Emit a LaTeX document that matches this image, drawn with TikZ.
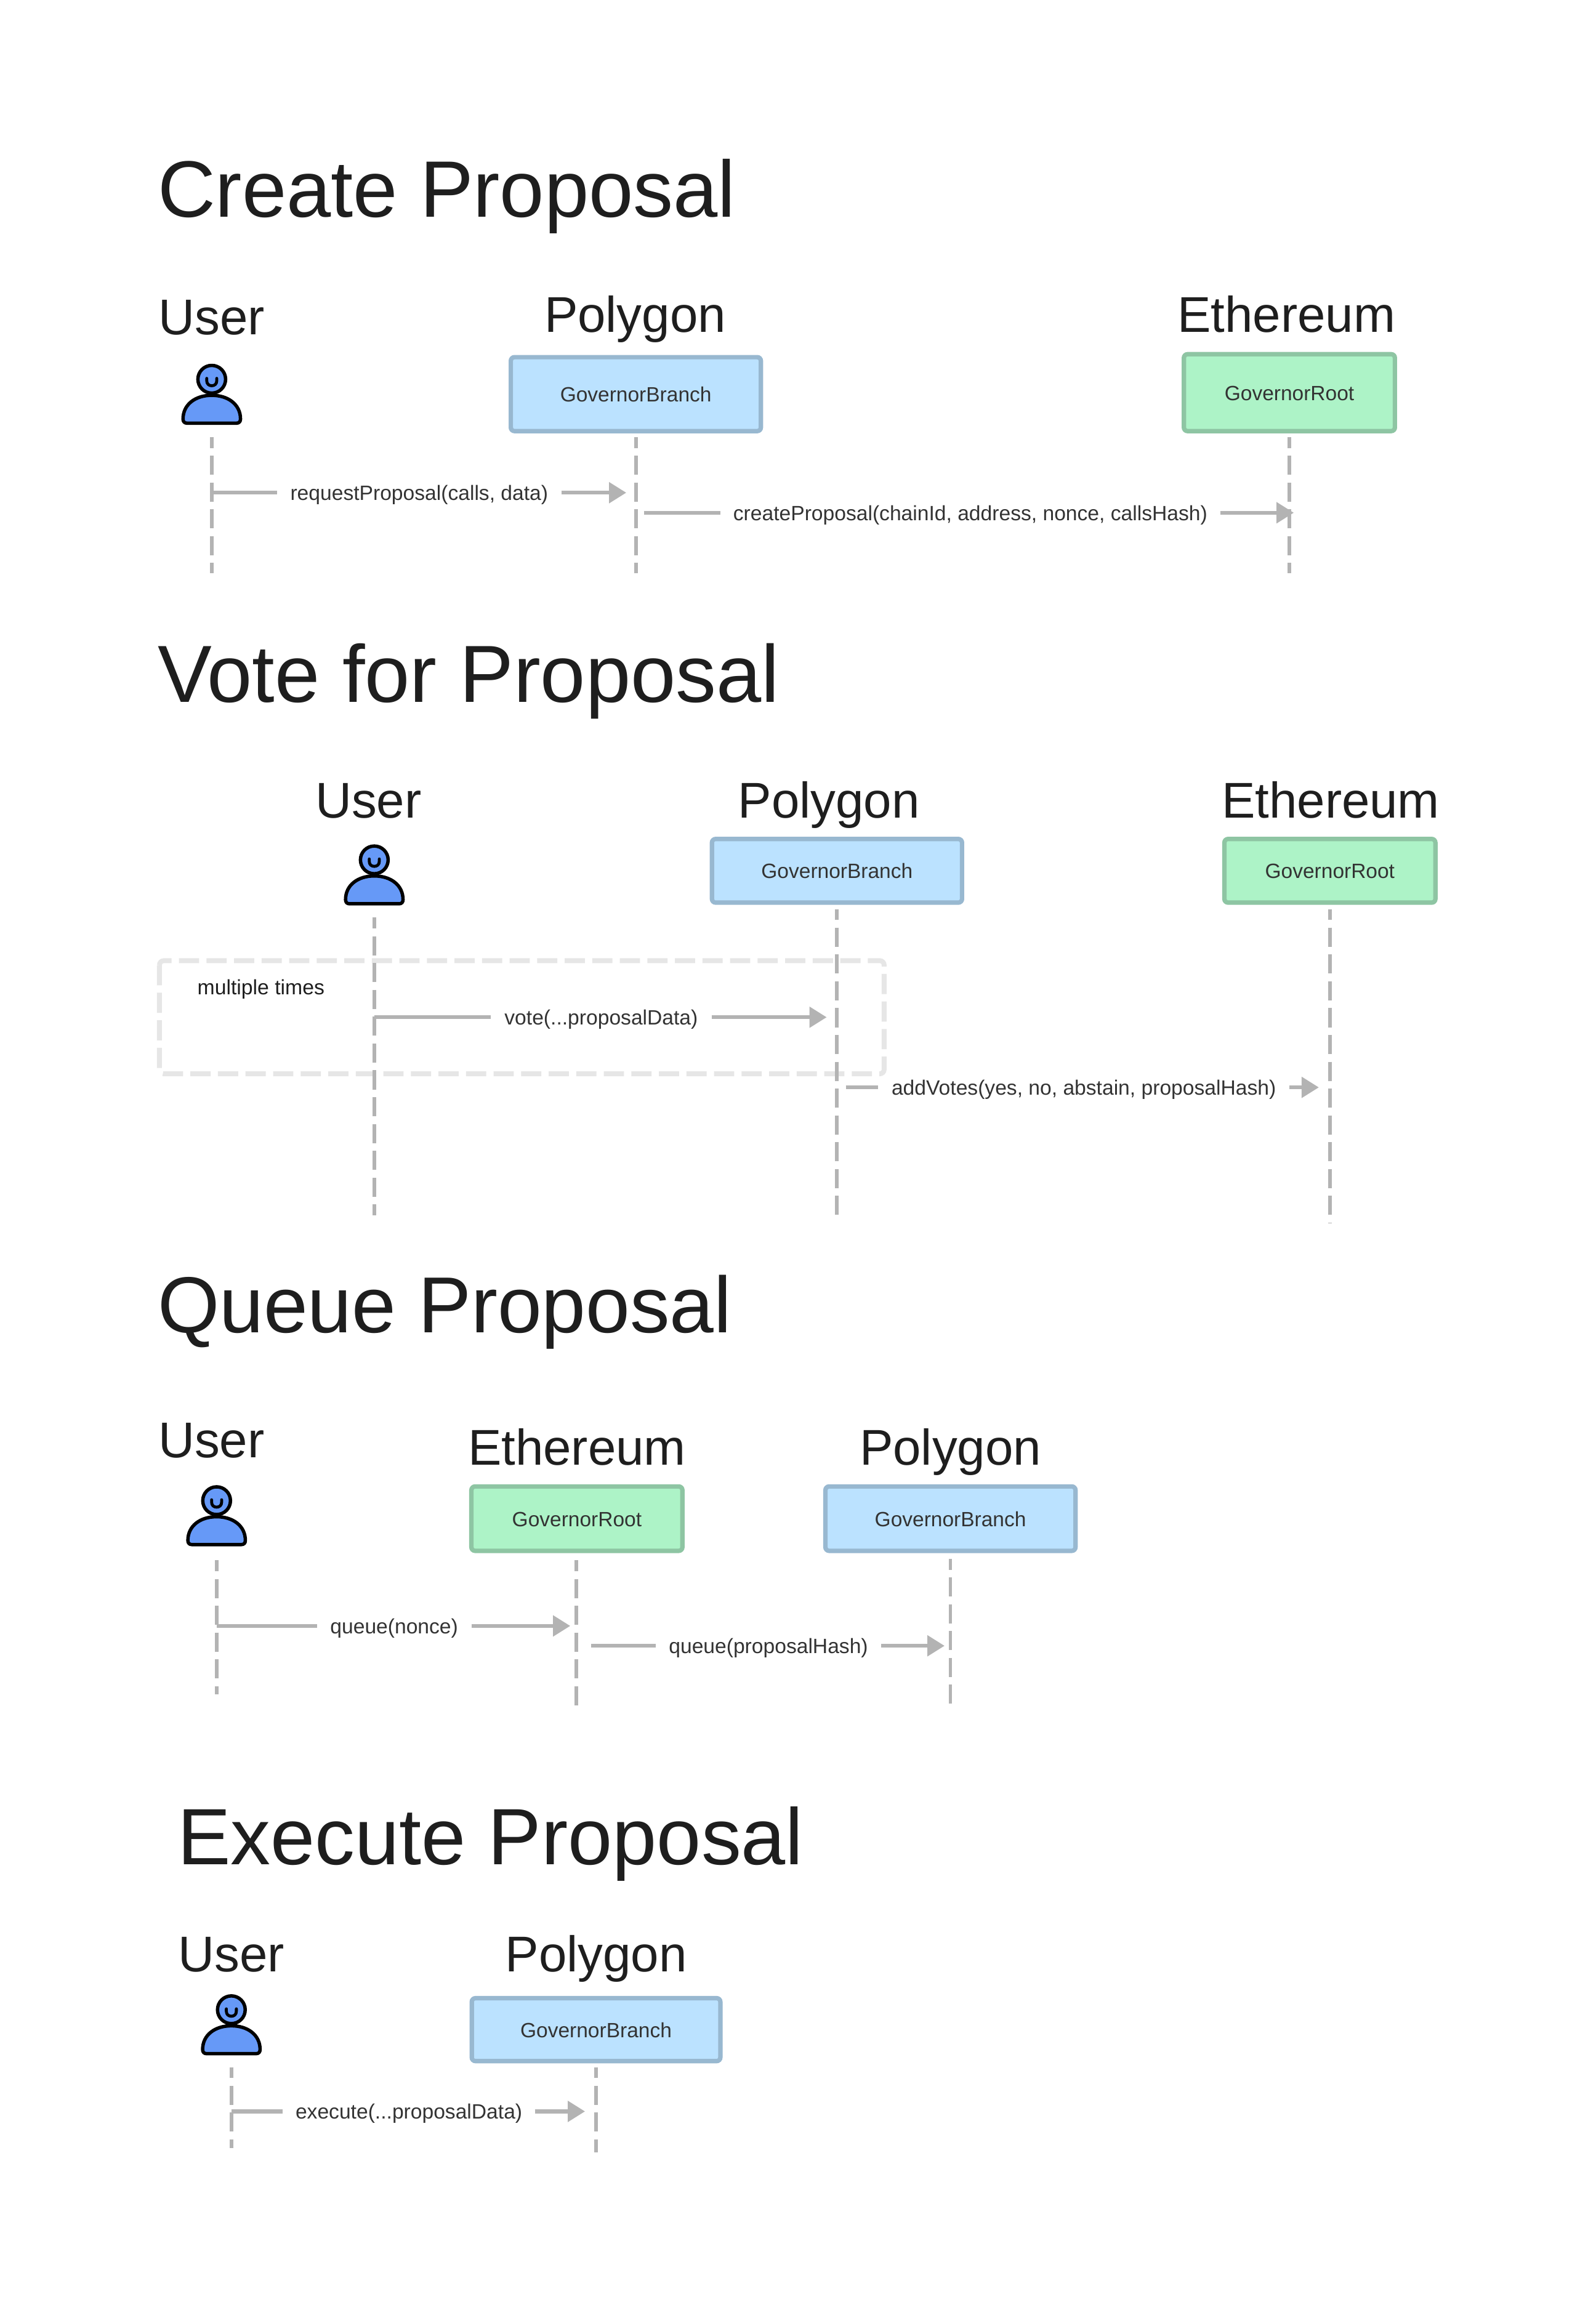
\documentclass[tikz,border=0pt]{standalone}
\usepackage{fontspec}
\setmainfont{Liberation Sans}
\usetikzlibrary{arrows.meta}
\definecolor{inkdark}{HTML}{1E1E1E}
\definecolor{inklabel}{HTML}{333333}
\definecolor{linegrey}{HTML}{B3B3B3}
\definecolor{framegrey}{HTML}{E6E6E6}
\definecolor{bluefill}{HTML}{BBE2FF}
\definecolor{bluedraw}{HTML}{98B8D0}
\definecolor{greenfill}{HTML}{ADF3C7}
\definecolor{greendraw}{HTML}{8EC5A3}
\definecolor{userblue}{HTML}{6699F7}
\tikzset{
  every node/.style={inner sep=0pt,outer sep=0pt},
  title/.style={anchor=base west,text=inkdark},
  actor/.style={anchor=base,text=inkdark,font=\fontsize{34.1}{38}\selectfont},
  boxbase/.style={draw,line width=3pt,rounded corners=2.5pt,text=inklabel,
     font=\fontsize{14}{16}\selectfont,text height=13.4pt,text depth=3pt},
  bluebox/.style={boxbase,fill=bluefill,draw=bluedraw},
  greenbox/.style={boxbase,fill=greenfill,draw=greendraw},
  msglabel/.style={text=inklabel,font=\fontsize{14.05}{16}\selectfont,text height=13.4pt,text depth=3pt},
  plainlabel/.style={text=inkdark,font=\fontsize{14.1}{16}\selectfont,text height=13.4pt,text depth=3pt},
  life/.style={draw=linegrey,line width=2.4pt,dash pattern=on 13pt off 5.2pt,dash phase=5.6pt},
  msgline/.style={draw=linegrey,line width=2.6pt},
  msgarrow/.style={msgline,-{Triangle[length=11.7pt,width=13.8pt]}},
  frame/.style={draw=framegrey,line width=3.3pt,dash pattern=on 13.7pt off 5pt,rounded corners=3pt},
  userpart/.style={draw=black,line width=2.3pt,fill=userblue,line join=round},
  pics/usericon/.style={code={
    \path[userpart] (-19.5,27) .. controls (-19.5,17) and (-11,10.9) .. (0,10.9)
       .. controls (11,10.9) and (19.5,17) .. (19.5,27)
       .. controls (19.5,28.8) and (18.5,29.8) .. (16.8,29.8) -- (-16.8,29.8)
       .. controls (-18.5,29.8) and (-19.5,28.8) .. (-19.5,27) -- cycle;
    \path[userpart] (0,0) circle (9.4);
    \draw[black,line width=2pt,line cap=round] (-3.4,-0.6) -- (-3.4,1)
       .. controls (-3.4,3.2) and (-1.9,4.4) .. (0,4.4)
       .. controls (1.9,4.4) and (3.4,3.2) .. (3.4,1) -- (3.4,-0.6);
  }}
}
\begin{document}
\begin{tikzpicture}[x=1pt,y=-1pt]
\useasboundingbox (0,0) rectangle (1083,1567.8);
\fill[white] (0,0) rectangle (1083,1567.8);

% --- Create Proposal
\node[title,font=\fontsize{54.3}{60}\selectfont] (t1) at (107,147.5) {Create Proposal};
\node[actor] (u1) at (143.7,227.3) {User};
\node[actor] (p1) at (431,225.5) {Polygon};
\node[actor] (e1) at (873,225.5) {Ethereum};
\path (143.7,257.4) pic {usericon};
\node[bluebox,minimum width=169.7pt,minimum height=50.2pt] (gb1) at (431.5,267.5) {GovernorBranch};
\node[greenbox,minimum width=143.2pt,minimum height=52.2pt] (gr1) at (875,266.5) {GovernorRoot};
\coordinate (us1) at (143.7,296.7); \coordinate (ue1) at (143.7,389);
\coordinate (ps1) at (431.5,296.7); \coordinate (pe1) at (431.5,389);
\coordinate (es1) at (875,296.7);   \coordinate (ee1) at (875,389);
\draw[life] (us1) -- (ue1);
\draw[life] (ps1) -- (pe1);
\draw[life] (es1) -- (ee1);
\node[msglabel,minimum width=193pt] (m1a) at (284.5,334.4) {requestProposal(calls, data)};
\coordinate (a1s) at (143.7,334.4); \coordinate (a1e) at (425,334.4);
\draw[msgline] (a1s) -- (m1a);
\draw[msgarrow] (m1a) -- (a1e);
\node[msglabel,minimum width=339pt] (m1b) at (658.5,348) {createProposal(chainId, address, nonce, callsHash)};
\coordinate (b1s) at (437,348); \coordinate (b1e) at (878,348);
\draw[msgline] (b1s) -- (m1b);
\draw[msgarrow] (m1b) -- (b1e);

% --- Vote for Proposal
\node[title,font=\fontsize{55}{60}\selectfont] (t2) at (107,476.5) {Vote for Proposal};
\node[actor] (u2) at (250,555.3) {User};
\node[actor] (p2) at (562.5,555.3) {Polygon};
\node[actor] (e2) at (903,555.3) {Ethereum};
\path (254,583.6) pic {usericon};
\node[bluebox,minimum width=169.7pt,minimum height=43.2pt] (gb2) at (568,591) {GovernorBranch};
\node[greenbox,minimum width=143.2pt,minimum height=43.2pt] (gr2) at (902.5,591) {GovernorRoot};
\draw[frame] (108.2,652) rectangle (600,728.8);
\coordinate (us2) at (254,622.8); \coordinate (ue2) at (254,825);
\coordinate (ps2) at (568,617);   \coordinate (pe2) at (568,825);
\coordinate (es2) at (902.5,617); \coordinate (ee2) at (902.5,830);
\draw[life] (us2) -- (ue2);
\draw[life] (ps2) -- (pe2);
\draw[life] (es2) -- (ee2);
\node[plainlabel,anchor=west] (mt) at (134,670) {multiple times};
\node[msglabel,minimum width=150pt] (m2a) at (408,690.4) {vote(...proposalData)};
\coordinate (a2s) at (254,690.4); \coordinate (a2e) at (561,690.4);
\draw[msgline] (a2s) -- (m2a);
\draw[msgarrow] (m2a) -- (a2e);
\node[msglabel,minimum width=279pt] (m2b) at (735.5,738) {addVotes(yes, no, abstain, proposalHash)};
\coordinate (b2s) at (574,738); \coordinate (b2e) at (895,738);
\draw[msgline] (b2s) -- (m2b);
\draw[msgarrow] (m2b) -- (b2e);

% --- Queue Proposal
\node[title,font=\fontsize{53.9}{60}\selectfont] (t3) at (107,904.5) {Queue Proposal};
\node[actor] (u3) at (143.5,989.3) {User};
\node[actor] (e3) at (391.5,994.3) {Ethereum};
\node[actor] (p3) at (645,994.3) {Polygon};
\path (147,1018.5) pic {usericon};
\node[greenbox,minimum width=143.2pt,minimum height=43.7pt] (gr3) at (391.5,1030.7) {GovernorRoot};
\node[bluebox,minimum width=169.7pt,minimum height=43.7pt] (gb3) at (645,1030.7) {GovernorBranch};
\coordinate (us3) at (147,1059); \coordinate (ue3) at (147,1150);
\coordinate (es3) at (391,1059); \coordinate (ee3) at (391,1158);
\coordinate (ps3) at (645,1058); \coordinate (pe3) at (645,1156);
\draw[life] (us3) -- (ue3);
\draw[life] (es3) -- (ee3);
\draw[life] (ps3) -- (pe3);
\node[msglabel,minimum width=105pt] (m3a) at (267.5,1103.5) {queue(nonce)};
\coordinate (a3s) at (147,1103.5); \coordinate (a3e) at (387,1103.5);
\draw[msgline] (a3s) -- (m3a);
\draw[msgarrow] (m3a) -- (a3e);
\node[msglabel,minimum width=153pt] (m3b) at (521.5,1117) {queue(proposalHash)};
\coordinate (b3s) at (401,1117); \coordinate (b3e) at (641,1117);
\draw[msgline] (b3s) -- (m3b);
\draw[msgarrow] (m3b) -- (b3e);

% --- Execute Proposal
\node[title,font=\fontsize{54.2}{60}\selectfont] (t4) at (120.5,1265.5) {Execute Proposal};
\node[actor] (u4) at (157,1338) {User};
\node[actor] (p4) at (404.5,1338) {Polygon};
\path (157,1364) pic {usericon};
\node[bluebox,minimum width=168.7pt,minimum height=42.7pt] (gb4) at (404.5,1377.5) {GovernorBranch};
\coordinate (us4) at (157,1403);   \coordinate (ue4) at (157,1458);
\coordinate (ps4) at (404.5,1403); \coordinate (pe4) at (404.5,1461);
\draw[life] (us4) -- (ue4);
\draw[life] (ps4) -- (pe4);
\node[msglabel,minimum width=171pt] (m4a) at (277.5,1433) {execute(...proposalData)};
\coordinate (a4s) at (157,1433); \coordinate (a4e) at (397,1433);
\draw[msgline] (a4s) -- (m4a);
\draw[msgarrow] (m4a) -- (a4e);
\end{tikzpicture}
\end{document}
